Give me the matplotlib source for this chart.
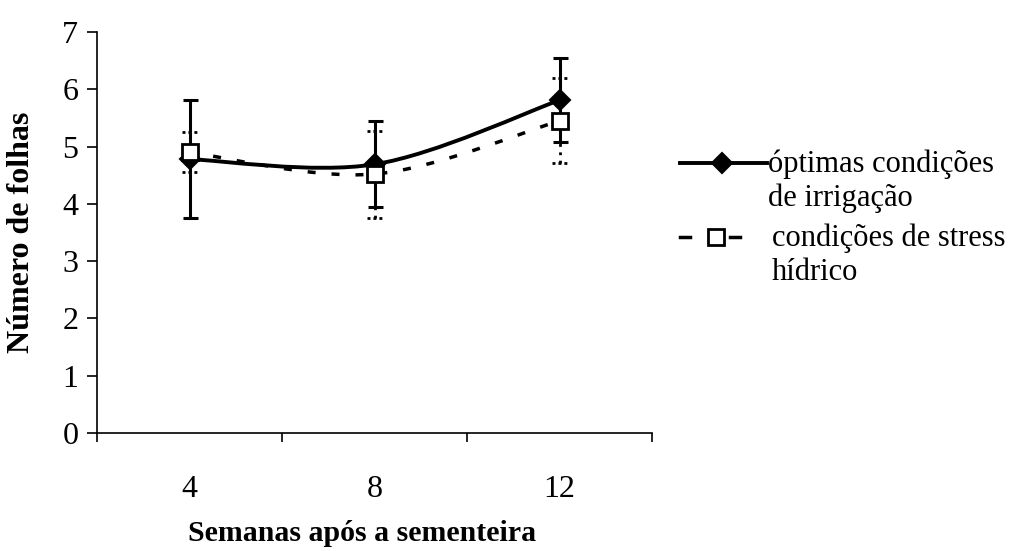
import numpy as np
import matplotlib
matplotlib.use("Agg")
import matplotlib.pyplot as plt
from matplotlib.path import Path
from matplotlib.patches import PathPatch
from matplotlib.lines import Line2D

# número médio de folhas e desvio padrão
semanas = ["4", "8", "12"]
optimas = [4.78, 4.69, 5.81]
optimas_err = [1.03, 0.75, 0.73]
stress = [4.90, 4.52, 5.45]
stress_err = [0.35, 0.76, 0.74]

plt.rcParams['font.family'] = ['Liberation Serif', 'DejaVu Serif']

W, H = 1022, 551


def px(x, y):
    # coordenadas em pixels -> fracção da figura
    return x / W, 1 - y / H


def smooth_path(xs, ys):
    # linha suavizada (Catmull-Rom convertido em Bezier cúbicas)
    pts = np.column_stack([xs, ys]).astype(float)
    n = len(pts)
    verts = [pts[0]]
    codes = [Path.MOVETO]
    for i in range(n - 1):
        p_prev = pts[max(i - 1, 0)]
        p_next = pts[min(i + 2, n - 1)]
        c1 = pts[i] + (pts[i + 1] - p_prev) / 6
        c2 = pts[i + 1] - (p_next - pts[i]) / 6
        verts += [c1, c2, pts[i + 1]]
        codes += [Path.CURVE4] * 3
    return Path(verts, codes)


fig = plt.figure(figsize=(W / 100, H / 100), dpi=100)
ax = fig.add_axes([97 / W, 1 - 433 / H, 555 / W, 401 / H])
x = np.arange(len(semanas))
opt = np.array(optimas)
st = np.array(stress)
st_e = np.array(stress_err)

# barras de erro
ax.errorbar(x, opt, yerr=optimas_err, fmt='none', ecolor='black',
            elinewidth=2.2, capsize=5.4, capthick=2.2, zorder=2)
lo, hi = st - st_e, st + st_e
ax.vlines(x, lo, hi, colors='black', linestyles=(0, (1, 2)), lw=2, zorder=1.5)
cap = 0.04
ax.hlines(np.concatenate([lo, hi]), np.tile(x, 2) - cap, np.tile(x, 2) + cap,
          colors='black', linestyles=(0, (1.07, 1.07)), lw=2, zorder=1.5)

# linhas suavizadas
ax.add_patch(PathPatch(smooth_path(x, opt), fill=False, ec='black', lw=2.8,
                       zorder=3))
ax.add_patch(PathPatch(smooth_path(x, st), fill=False, ec='black', lw=2.5,
                       linestyle=(0, (2.3, 4.6)), zorder=3))

# marcadores
ax.plot(x, opt, 'D', ms=10, mfc='black', mec='black', mew=1.5, zorder=4)
ax.plot(x, st, 's', ms=12, mfc='white', mec='black', mew=2, zorder=5)

ax.set_xlim(-0.5, 2.5)
ax.set_ylim(0, 7)
ax.set_xticks([-0.5, 0.5, 1.5, 2.5])
ax.set_xticklabels([])
ax.set_xticks(x, minor=True)
ax.set_xticklabels(semanas, minor=True)
ax.set_yticks(range(8))
ax.tick_params(axis='x', which='major', direction='out', length=6.5, width=1.2)
ax.tick_params(axis='x', which='minor', length=0, pad=30, labelsize=23)
ax.tick_params(axis='y', direction='out', length=7, width=1.2, pad=6.5,
               labelsize=23)
for s in ['top', 'right']:
    ax.spines[s].set_visible(False)
for s in ['left', 'bottom']:
    ax.spines[s].set_linewidth(1.2)

fig.text(*px(362, 541), 'Semanas após a sementeira', ha='center',
         va='baseline', fontsize=21.5, fontweight='bold')
fig.text(*px(22, 232), 'Número de folhas', rotation=90, ha='center',
         va='center', fontsize=23, fontweight='bold')

# legenda
tr = fig.transFigure
x0, y0 = px(680, 163)
x1, _ = px(767, 163)
fig.add_artist(Line2D([x0, x1], [y0, y0], transform=tr, color='black', lw=2.8))
fig.add_artist(Line2D([px(722, 0)[0]], [y0], transform=tr, marker='D', ms=10,
                      color='black', mew=1.5))
_, y1 = px(0, 237)
for a, b in [(680, 690), (730, 740)]:
    fig.add_artist(Line2D([a / W, b / W], [y1, y1], transform=tr,
                          color='black', lw=2.5))
fig.add_artist(Line2D([px(716, 0)[0]], [y1], transform=tr, marker='s', ms=12,
                      mfc='white', mec='black', mew=2))
for tx, ty, txt in [(768, 172, 'óptimas condições'), (768, 206, 'de irrigação'),
                    (772, 246, 'condições de stress'), (772, 280, 'hídrico')]:
    fig.text(*px(tx, ty), txt, ha='left', va='baseline', fontsize=22)

fig.savefig('out.png', dpi=100)
